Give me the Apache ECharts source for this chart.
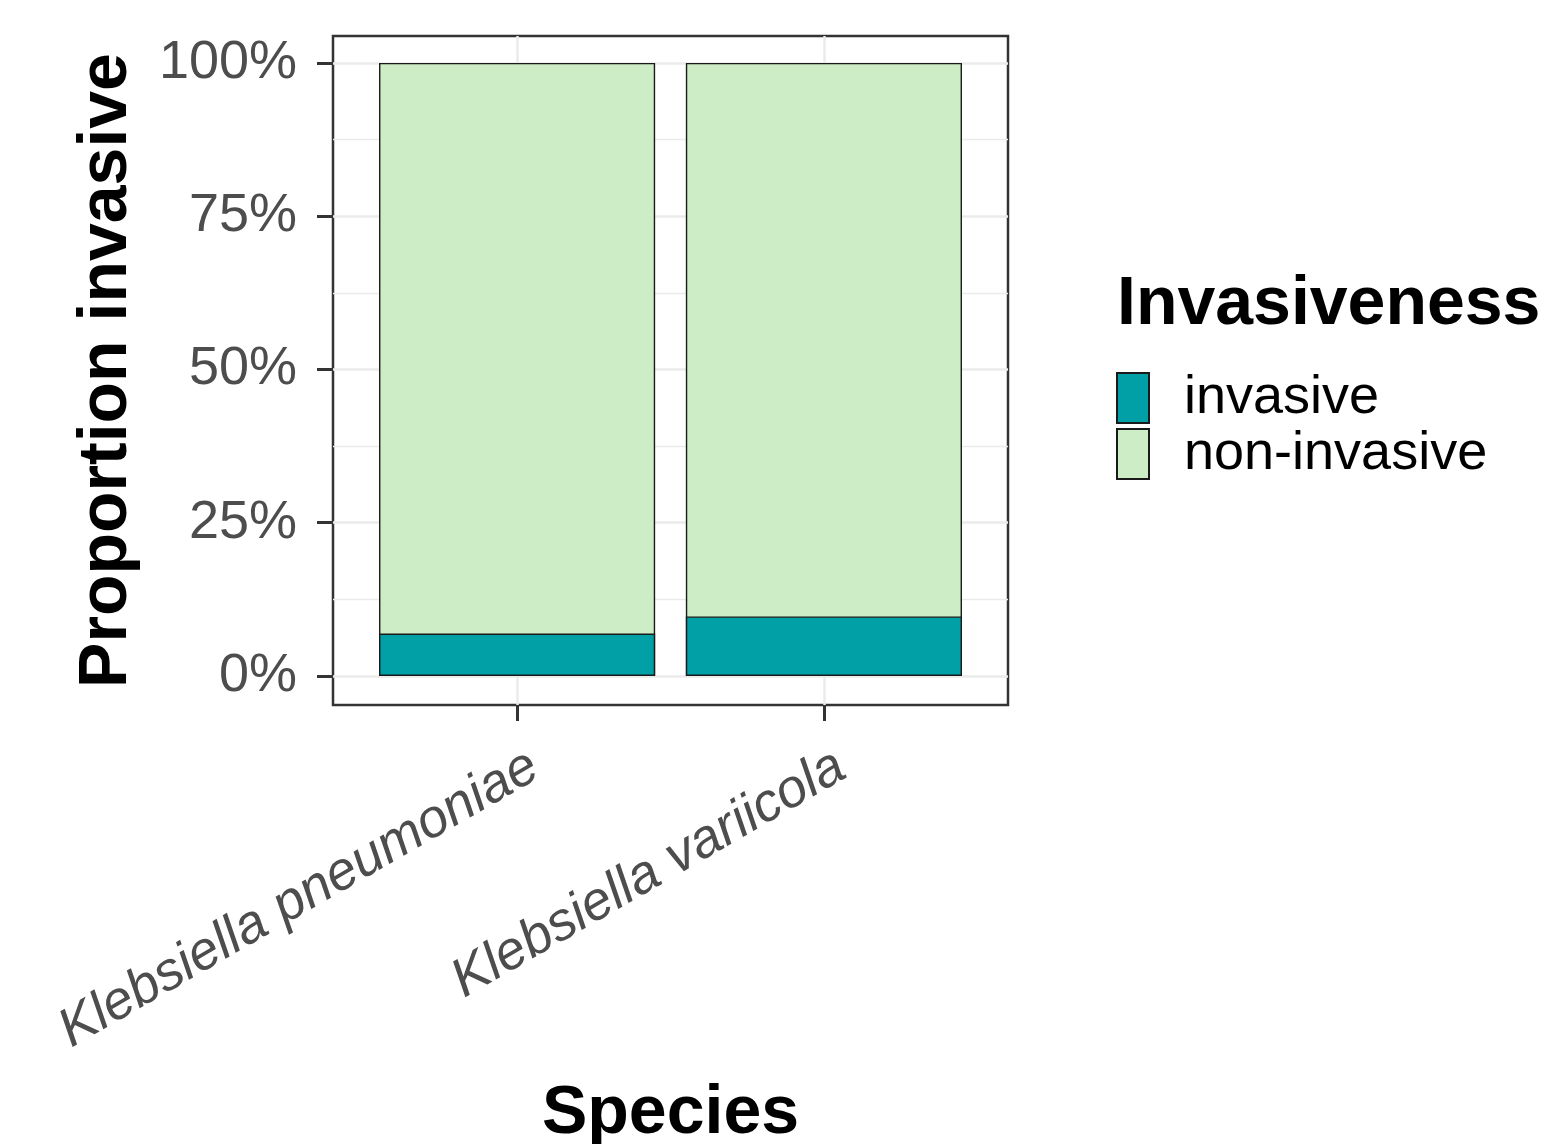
<!DOCTYPE html>
<html>
<head>
<meta charset="utf-8">
<script src="https://cdn.jsdelivr.net/npm/echarts@6/dist/echarts.min.js"></script>
<style>
html, body { margin: 0; background: #fff; }
#chart { width: 1562px; height: 1144px; }
</style>
</head>
<body>
<div id="chart"></div>
<script>
// data
const species = ['Klebsiella pneumoniae', 'Klebsiella variicola'];
const invasive = [6.9, 9.7];
const nonInvasive = [93.1, 90.3];
const majorTicks = [0, 25, 50, 75, 100];
const minorTicks = [12.5, 37.5, 62.5, 87.5];
const speciesPos = species.map((s, i) => i + 1);

const font = "'Liberation Sans', Arial, sans-serif";
const gridCol = '#EBEBEB';

// panel layout, ggplot style: discrete axis padded by 0.6 on each side
const gridLeft = 333, gridRight = 1008;
const xMin = 0.4, xMax = species.length + 0.6;
const barPx = (gridRight - gridLeft) / (xMax - xMin) * 0.9;

// panel grid lines, drawn under the bars
const gridLines = []
    .concat(majorTicks.map(v => ({ yAxis: v, lineStyle: { width: 2.5 } })))
    .concat(minorTicks.map(v => ({ yAxis: v, lineStyle: { width: 1.3 } })))
    .concat(speciesPos.map(v => ({ xAxis: v, lineStyle: { width: 2.5 } })));

// stacked by hand: the upper segment is drawn full height, the lower one over it
const stackTop = speciesPos.map((x, i) => [x, invasive[i] + nonInvasive[i]]);
const stackBottom = speciesPos.map((x, i) => [x, invasive[i]]);

let myChart = echarts.init(document.getElementById('chart'));
myChart.setOption({
    animation: false,
    backgroundColor: '#fff',
    textStyle: { fontFamily: font },
    title: {
        text: 'Invasiveness',
        left: 1112,
        top: 266,
        textStyle: { fontSize: 68, fontWeight: 'bold', color: '#000', fontFamily: font }
    },
    legend: {
        orient: 'vertical',
        left: 1116,
        top: 371,
        padding: 0,
        itemWidth: 32,
        itemHeight: 50,
        itemGap: 2,
        icon: 'rect',
        data: ['invasive', 'non-invasive'],
        textStyle: { fontSize: 54, color: '#000', fontFamily: font, padding: [0, 0, 0, 30] }
    },
    grid: {
        left: gridLeft,
        right: 1562 - gridRight,
        top: 36,
        bottom: 439,
        outerBoundsMode: 'none',
        show: true,
        borderColor: '#333',
        borderWidth: 2.5,
        backgroundColor: '#fff'
    },
    xAxis: {
        type: 'value',
        min: xMin,
        max: xMax,
        name: 'Species',
        nameLocation: 'middle',
        nameGap: 375,
        nameTextStyle: { fontSize: 68, fontWeight: 'bold', color: '#000', fontFamily: font },
        axisLine: { show: false, onZero: false },
        axisTick: { show: true, length: 16, customValues: speciesPos, lineStyle: { color: '#333', width: 3 } },
        axisLabel: {
            customValues: speciesPos,
            formatter: v => species[Math.round(v) - 1],
            rotate: 30,
            margin: 68,
            padding: [0, -20, 0, 0],
            fontSize: 54,
            fontStyle: 'italic',
            color: '#4D4D4D',
            fontFamily: font
        },
        splitLine: { show: false }
    },
    yAxis: {
        type: 'value',
        min: -4.75,
        max: 104.4,
        name: 'Proportion invasive',
        nameLocation: 'middle',
        nameGap: 192,
        nameTextStyle: { fontSize: 68, fontWeight: 'bold', color: '#000', fontFamily: font },
        axisLine: { show: false, onZero: false },
        axisTick: { show: true, length: 16, customValues: majorTicks, lineStyle: { color: '#333', width: 3 } },
        axisLabel: {
            customValues: majorTicks,
            formatter: v => v + '%',
            margin: 36,
            fontSize: 54,
            color: '#4D4D4D',
            fontFamily: font
        },
        splitLine: { show: false }
    },
    series: [
        {
            name: 'non-invasive',
            type: 'bar',
            barWidth: barPx,
            barGap: '-100%',
            data: stackTop,
            itemStyle: { color: '#CCEDC5', borderColor: '#1a1a1a', borderWidth: 1.4 },
            markLine: {
                silent: true,
                z: 1,
                symbol: 'none',
                label: { show: false },
                lineStyle: { color: gridCol, type: 'solid' },
                data: gridLines
            }
        },
        {
            name: 'invasive',
            type: 'bar',
            barWidth: barPx,
            barGap: '-100%',
            data: stackBottom,
            itemStyle: { color: '#00A0A6', borderColor: '#1a1a1a', borderWidth: 1.4 }
        }
    ]
});
</script>
</body>
</html>
